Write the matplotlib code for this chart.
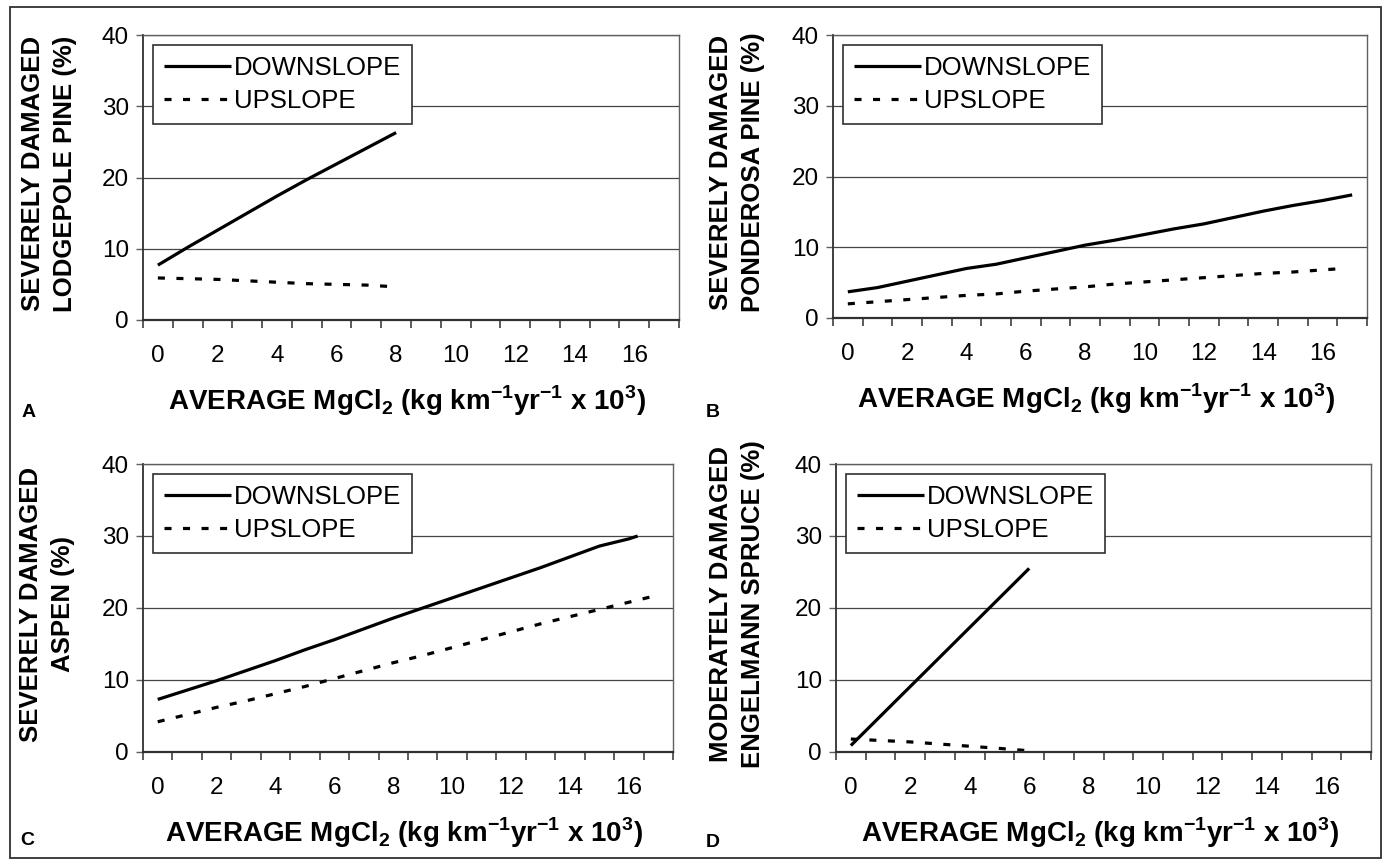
import numpy as np
import matplotlib
matplotlib.use("Agg")
import matplotlib.pyplot as plt
from matplotlib.patches import Rectangle

plt.rcParams['font.family'] = ['Liberation Sans', 'DejaVu Sans']
plt.rcParams['mathtext.fontset'] = 'custom'
plt.rcParams['mathtext.rm'] = 'Liberation Sans'
plt.rcParams['mathtext.bf'] = 'Liberation Sans:bold'

# values (x = average MgCl2 category)
x_a_down = [0, 1, 2, 3, 4, 5, 6, 7, 8]
a_down = [7.7, 10.2, 12.6, 15.0, 17.4, 19.7, 21.9, 24.1, 26.3]
x_a_up = [0, 1, 2, 3, 4, 5, 6, 7, 7.8]
a_up = [5.9, 5.8, 5.7, 5.5, 5.3, 5.1, 5.0, 4.9, 4.7]

x_b_down = list(range(18))
b_down = [3.7, 4.3, 5.2, 6.1, 7.0, 7.6, 8.5, 9.4, 10.3, 11.0, 11.8, 12.6,
          13.3, 14.2, 15.1, 15.9, 16.6, 17.4]
x_b_up = list(range(17)) + [16.7]
b_up = [2.0, 2.3, 2.6, 2.9, 3.2, 3.4, 3.8, 4.1, 4.4, 4.8, 5.1, 5.4, 5.7,
        6.0, 6.3, 6.5, 6.8, 7.0]

x_c_down = list(range(17)) + [16.3]
c_down = [7.3, 8.6, 9.9, 11.3, 12.7, 14.2, 15.6, 17.1, 18.6, 20.0, 21.4,
          22.8, 24.2, 25.6, 27.1, 28.6, 29.6, 30.0]
x_c_up = list(range(18))
c_up = [4.2, 5.2, 6.2, 7.1, 8.1, 9.1, 10.2, 11.3, 12.4, 13.4, 14.5, 15.6,
        16.7, 17.8, 18.8, 19.8, 20.8, 21.8]

x_d_down = [0, 1, 2, 3, 4, 5, 6]
d_down = [0.9, 5.0, 9.1, 13.2, 17.3, 21.4, 25.5]
x_d_up = [0, 1, 2, 3, 4, 5, 5.9]
d_up = [1.8, 1.6, 1.4, 1.1, 0.8, 0.5, 0.2]

ylabels = ["SEVERELY DAMAGED\nLODGEPOLE PINE (%)",
           "SEVERELY DAMAGED\nPONDEROSA PINE (%)",
           "SEVERELY DAMAGED\nASPEN (%)",
           "MODERATELY DAMAGED\nENGELMANN SPRUCE (%)"]
letters = ["A", "B", "C", "D"]
xtick_vals = list(range(0, 17, 2))
ytick_vals = [0, 10, 20, 30, 40]
xlabel = (r"AVERAGE MgCl$_\mathbf{2}$ (kg km$^\mathbf{-1}$yr$^\mathbf{-1}$"
          r" x 10$^\mathbf{3}$)")

W, H = 1385, 860
fig = plt.figure(figsize=(W / 100, H / 100), dpi=100)
fig.patch.set_facecolor('white')

# axes boxes in pixels: left, top, right, bottom
boxes = [(143, 35, 679, 320), (833, 35, 1367, 318),
         (143, 464, 673, 752), (836, 464, 1371, 752)]
series = [(x_a_down, a_down, x_a_up, a_up),
          (x_b_down, b_down, x_b_up, b_up),
          (x_c_down, c_down, x_c_up, c_up),
          (x_d_down, d_down, x_d_up, d_up)]
letter_pos = [(22, 417), (706, 417), (20, 845), (706, 847)]
ylab_x = [49, 737, 47, 737]

for i, (l, t, r, b) in enumerate(boxes):
    ax = fig.add_axes([l / W, 1 - b / H, (r - l) / W, (b - t) / H])
    xd, yd, xu, yu = series[i]
    ax.plot(xd, yd, color='black', lw=2.3, label='DOWNSLOPE',
            solid_capstyle='butt')
    ax.plot(xu, yu, color='black', lw=2.3, linestyle=(0, (2.2, 3.6)),
            label='UPSLOPE')
    ax.set_xlim(-0.5, 17.5)
    ax.set_ylim(0, 40)

    ax.set_xticks(np.arange(-0.5, 18, 1))
    ax.set_xticklabels([])
    ax.set_xticks(xtick_vals, minor=True)
    ax.set_xticklabels([str(v) for v in xtick_vals], minor=True)
    ax.tick_params(axis='x', which='major', direction='out', length=6,
                   width=1.2, color='#404040')
    ax.tick_params(axis='x', which='minor', length=0, pad=18, labelsize=17.5)
    ax.set_yticks(ytick_vals)
    ax.tick_params(axis='y', direction='out', length=5, width=1,
                   color='#606060', pad=5, labelsize=17.5)

    ax.grid(axis='y', color='#454545', lw=0.9)
    ax.set_axisbelow(True)
    for s in ['top', 'right']:
        ax.spines[s].set_color('#606060')
        ax.spines[s].set_linewidth(1.0)
    ax.spines['left'].set_color('#303030')
    ax.spines['left'].set_linewidth(1.3)
    ax.spines['bottom'].set_color('#303030')
    ax.spines['bottom'].set_linewidth(1.6)

    leg = ax.legend(loc='upper left', bbox_to_anchor=(0.0, 1.0),
                    borderaxespad=0.4, fontsize=18.5, handlelength=2.6,
                    handletextpad=0.12, labelspacing=0.35, borderpad=0.42,
                    fancybox=False, framealpha=1, edgecolor='#303030')
    leg.get_frame().set_linewidth(1.2)

    fig.text(ylab_x[i] / W, 1 - ((t + b) / 2 - 4) / H, ylabels[i],
             rotation=90, ha='center', va='center', fontsize=18.5,
             fontweight='bold', linespacing=1.45)
    fig.text(((l + r) / 2 - 4) / W, 1 - (b + 90) / H, xlabel, ha='center',
             va='baseline', fontsize=20, fontweight='bold')
    fig.text(letter_pos[i][0] / W, 1 - letter_pos[i][1] / H, letters[i],
             ha='left', va='baseline', fontsize=14, fontweight='bold')

# outer frame
fig.patches.append(Rectangle((10 / W, 1 - 858 / H), 1371 / W, 851 / H,
                             transform=fig.transFigure, fill=False,
                             edgecolor='#303030', lw=1.3))

fig.savefig('out.png', dpi=100)
